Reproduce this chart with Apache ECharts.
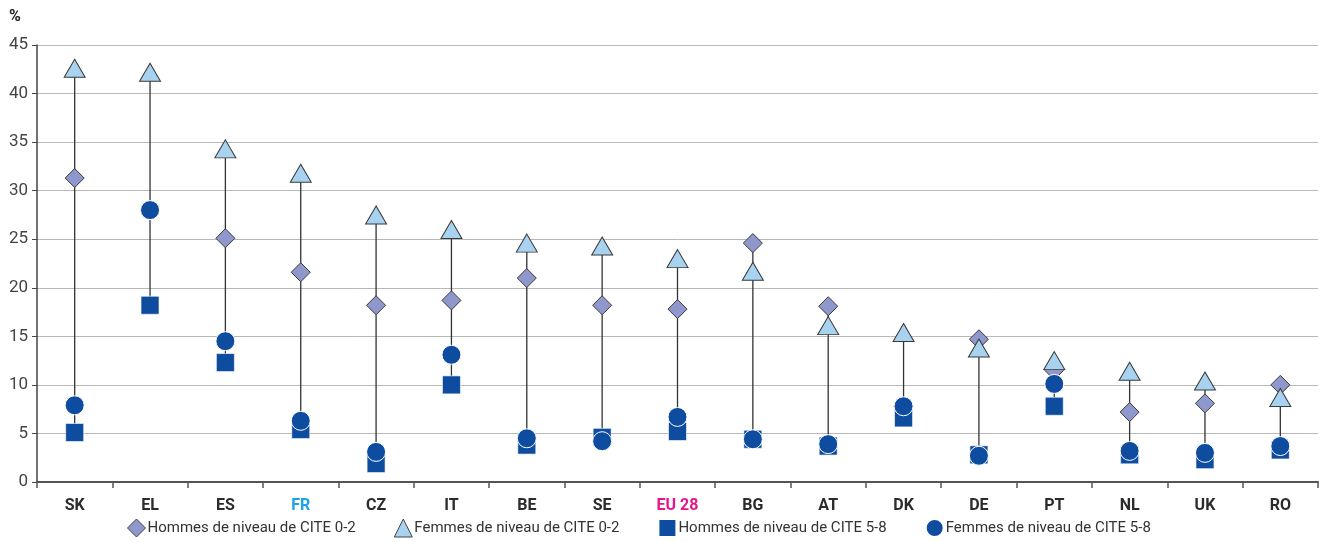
<!DOCTYPE html>
<html><head><meta charset="utf-8">
<script src="https://cdn.jsdelivr.net/npm/echarts@6/dist/echarts.min.js"></script>
<style>html,body{margin:0;padding:0;background:#fff}#c{width:1325px;height:542px}</style>
</head><body><div id="c"></div>
<script>
const categories = ['SK','EL','ES','FR','CZ','IT','BE','SE','EU 28','BG','AT','DK','DE','PT','NL','UK','RO'];
const hommes02 = [31.3, 28.0, 25.1, 21.6, 18.2, 18.7, 21.0, 18.2, 17.8, 24.6, 18.1, 7.8, 14.7, 11.5, 7.2, 8.1, 10.0];
const femmes02 = [42.6, 42.2, 34.3, 31.8, 27.5, 26.0, 24.6, 24.3, 23.0, 21.7, 16.1, 15.4, 13.8, 12.5, 11.4, 10.4, 8.7];
const hommes58 = [5.1, 18.2, 12.3, 5.4, 1.9, 10.0, 3.8, 4.6, 5.2, 4.4, 3.7, 6.6, 2.8, 7.8, 2.8, 2.3, 3.3];
const femmes58 = [7.9, 28.0, 14.5, 6.3, 3.1, 13.1, 4.5, 4.2, 6.7, 4.4, 3.9, 7.8, 2.7, 10.1, 3.2, 3.0, 3.7];
const yTicks = [0,5,10,15,20,25,30,35,40,45];
const seriesNames = ['Hommes de niveau de CITE 0-2','Femmes de niveau de CITE 0-2','Hommes de niveau de CITE 5-8','Femmes de niveau de CITE 5-8'];

const FONT = 'Roboto,"Noto Sans",sans-serif';
const rangeData = categories.map((c,i)=>{
  const v=[hommes02[i],femmes02[i],hommes58[i],femmes58[i]].filter(x=>x!=null);
  return [i, Math.min(...v), Math.max(...v)];
});
const labelColors = {'FR':'#1aa3e8','EU 28':'#e5168a'};

const chart = echarts.init(document.getElementById('c'), null, {renderer:'canvas'});
chart.setOption({
  animation:false,
  grid:{left:37,right:7,top:45,bottom:60,containLabel:false},
  graphic:[{type:'text',left:9,top:9,style:{text:'%',font:'bold 16px '+FONT,fill:'#222'}}],
  xAxis:{type:'category',data:categories,boundaryGap:true,
    axisLine:{lineStyle:{color:'#555',width:2}},
    axisTick:{show:true,interval:0,length:6,lineStyle:{color:'#555',width:1.5}},
    axisLabel:{interval:0,margin:16,fontFamily:FONT,fontSize:16,fontWeight:'bold',
      formatter:(v)=> labelColors[v] ? '{'+(v==='FR'?'fr':'eu')+'|'+v+'}' : '{n|'+v+'}',
      rich:{n:{color:'#2b2b2b',fontFamily:FONT,fontSize:16,fontWeight:'bold'},
            fr:{color:'#1aa3e8',fontFamily:FONT,fontSize:16,fontWeight:'bold'},
            eu:{color:'#e5168a',fontFamily:FONT,fontSize:16,fontWeight:'bold'}}},
    splitLine:{show:false}},
  yAxis:{type:'value',min:yTicks[0],max:yTicks[yTicks.length-1],interval:5,
    axisLine:{show:true,lineStyle:{color:'#444',width:1.5}},
    axisTick:{show:true,length:5,lineStyle:{color:'#444'}},
    axisLabel:{margin:9,fontFamily:FONT,fontSize:17,color:'#444'},
    splitLine:{lineStyle:{color:'#b8b8b8',width:1}}},
  legend:{bottom:-1,left:122,itemGap:38,itemWidth:18,itemHeight:18,
    textStyle:{fontFamily:FONT,fontSize:15,color:'#333',padding:[0,0,0,-3]},
    data:[
      {name:seriesNames[0],icon:'diamond',itemStyle:{color:'#8e98cc',borderColor:'#444',borderWidth:1}},
      {name:seriesNames[1],icon:'triangle',itemStyle:{color:'#a7d3f0',borderColor:'#444',borderWidth:1}},
      {name:seriesNames[2],icon:'rect',itemStyle:{color:'#0d4c9e'}},
      {name:seriesNames[3],icon:'circle',itemStyle:{color:'#0d4c9e'}}]},
  series:[
    {type:'custom',name:'range',z:1,silent:true,data:rangeData,
     renderItem:(params,api)=>{
       const p1=api.coord([api.value(0),api.value(1)]);
       const p2=api.coord([api.value(0),api.value(2)]);
       return {type:'line',shape:{x1:p1[0],y1:p1[1],x2:p2[0],y2:p2[1]},style:{stroke:'#333',lineWidth:1.3}};
     }},
    {type:'scatter',name:seriesNames[0],z:2,data:hommes02,symbol:'diamond',symbolSize:[19,19],
     itemStyle:{color:'#8e98cc',borderColor:'#3a3a3a',borderWidth:1,opacity:1}},
    {type:'scatter',name:seriesNames[1],z:3,data:femmes02,symbol:'triangle',symbolSize:[21,18],
     itemStyle:{color:'#a7d3f0',borderColor:'#3a3a3a',borderWidth:1,opacity:1}},
    {type:'scatter',name:seriesNames[2],z:4,data:hommes58,symbol:'rect',symbolSize:[18,18],
     itemStyle:{color:'#0d4c9e',borderColor:'#ffffff',borderWidth:0.6,opacity:1}},
    {type:'scatter',name:seriesNames[3],z:5,data:femmes58,symbol:'circle',symbolSize:[19,19],
     itemStyle:{color:'#0d4c9e',borderColor:'#ffffff',borderWidth:1,opacity:1}}
  ]
});
</script></body></html>
